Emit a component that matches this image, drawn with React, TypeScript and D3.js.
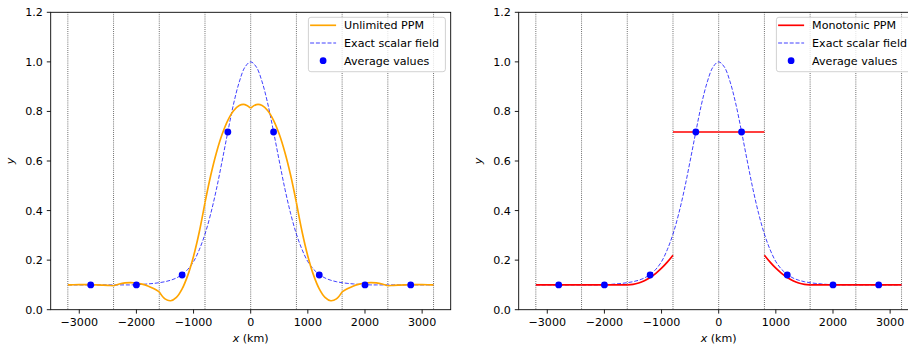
import React from "react";
import * as d3 from "d3";

// ---- data ----
const cellEdges = [-3200, -2400, -1600, -800, 0, 800, 1600, 2400, 3200];
const cellCenters = [-2800, -2000, -1200, -400, 400, 1200, 2000, 2800];
const averageValues = [0.1, 0.1, 0.14, 0.717, 0.717, 0.14, 0.1, 0.1];

// samples every 100 km from -3200 to 3200
const sampleX = d3.range(-3200, 3201, 100);

const exactValues = [
  0.1, 0.1, 0.1, 0.1, 0.1, 0.1, 0.1, 0.1, 0.1, 0.1, 0.1, 0.1,
  0.101, 0.102, 0.104, 0.106, 0.109, 0.113, 0.119, 0.128, 0.142, 0.163,
  0.194, 0.242, 0.305, 0.387, 0.486, 0.6, 0.718, 0.83, 0.919, 0.979,
  1.0,
  0.979, 0.919, 0.83, 0.718, 0.6, 0.486, 0.387, 0.305, 0.242, 0.194,
  0.163, 0.142, 0.128, 0.119, 0.113, 0.109, 0.106, 0.104, 0.102, 0.101,
  0.1, 0.1, 0.1, 0.1, 0.1, 0.1, 0.1, 0.1, 0.1, 0.1, 0.1, 0.1,
];

const unlimitedValues = [
  0.1, 0.1007, 0.101, 0.1011, 0.1008, 0.1003, 0.0994, 0.0982, 0.0967,
  0.1039, 0.1082, 0.1095, 0.1079, 0.1033, 0.0958, 0.0853, 0.0719,
  0.0435, 0.0361, 0.0496, 0.0841, 0.1395, 0.216, 0.3134, 0.4318,
  0.5415, 0.6335, 0.7077, 0.7643, 0.8031, 0.8242, 0.8275, 0.8132,
  0.8275, 0.8242, 0.8031, 0.7643, 0.7077, 0.6335, 0.5415, 0.4318,
  0.3134, 0.216, 0.1395, 0.0841, 0.0496, 0.0361, 0.0435, 0.0719,
  0.0853, 0.0958, 0.1033, 0.1079, 0.1095, 0.1082, 0.1039, 0.0967,
  0.0982, 0.0994, 0.1003, 0.1008, 0.1011, 0.101, 0.1007, 0.1,
];

// monotonic PPM, one list of 9 samples per cell
const monotonicCells = [
  [0.1, 0.1, 0.1, 0.1, 0.1, 0.1, 0.1, 0.1, 0.1],
  [0.1, 0.1, 0.1, 0.1, 0.1, 0.1, 0.1, 0.1, 0.1],
  [0.1, 0.1019, 0.1075, 0.1169, 0.13, 0.1469, 0.1675, 0.1919, 0.22],
  [0.717, 0.717, 0.717, 0.717, 0.717, 0.717, 0.717, 0.717, 0.717],
  [0.717, 0.717, 0.717, 0.717, 0.717, 0.717, 0.717, 0.717, 0.717],
  [0.22, 0.1919, 0.1675, 0.1469, 0.13, 0.1169, 0.1075, 0.1019, 0.1],
  [0.1, 0.1, 0.1, 0.1, 0.1, 0.1, 0.1, 0.1, 0.1],
  [0.1, 0.1, 0.1, 0.1, 0.1, 0.1, 0.1, 0.1, 0.1],
];

const xTicks = [-3000, -2000, -1000, 0, 1000, 2000, 3000];
const yTicks = [0, 0.2, 0.4, 0.6, 0.8, 1.0, 1.2];
const legendLabels = [
  ["Unlimited PPM", "Exact scalar field", "Average values"],
  ["Monotonic PPM", "Exact scalar field", "Average values"],
];

// ---- layout ----
const W = 908;
const H = 349;
const TOP = 12.3;
const BOTTOM = 309.7;
const PW = 400;
const FONT = "DejaVu Sans";
const FS = 11.1;
const TL = 3.9;

function Panel({ left, kind }: { left: number; kind: number }) {
  const x = d3.scaleLinear().domain([-3500, 3500]).range([left, left + PW]);
  const y = d3.scaleLinear().domain([0, 1.2]).range([BOTTOM, TOP]);
  const line = d3
    .line<[number, number]>()
    .x((d) => x(d[0]))
    .y((d) => y(d[1]))
    .curve(d3.curveCatmullRom);

  const exactPts: [number, number][] = sampleX.map((xv, i) => [xv, exactValues[i]]);
  const segs: [number, number][][] = [];
  for (let c = 0; c < cellCenters.length; c++) {
    const xs = sampleX.slice(c * 8, c * 8 + 9);
    const vals = kind === 0 ? unlimitedValues.slice(c * 8, c * 8 + 9) : monotonicCells[c];
    segs.push(xs.map((xv, i) => [xv, vals[i]] as [number, number]));
  }
  const ppmColor = kind === 0 ? "#ffa500" : "#ff0000";
  const right = left + PW;
  const lgW = 137;
  const lgX = right - 5.3 - lgW;
  const lgY = TOP + 5;
  const rows = [lgY + 8, lgY + 25.7, lgY + 43.4];
  const labels = legendLabels[kind];
  const cx = (left + right) / 2;

  return (
    <g>
      <defs>
        <clipPath id={`clip${kind}`}>
          <rect x={left} y={TOP} width={PW} height={BOTTOM - TOP} />
        </clipPath>
      </defs>
      <g clipPath={`url(#clip${kind})`}>
        {cellEdges.map((e) => (
          <line
            key={e}
            x1={x(e)}
            x2={x(e)}
            y1={TOP}
            y2={BOTTOM}
            stroke="#000"
            strokeWidth={0.7}
            strokeDasharray="0.8,1.3"
          />
        ))}
        <path
          d={line(exactPts) || ""}
          fill="none"
          stroke="#0000ff"
          strokeOpacity={0.75}
          strokeWidth={1}
          strokeDasharray="4,1.8"
        />
        {segs.map((s, i) => (
          <path key={i} d={line(s) || ""} fill="none" stroke={ppmColor} strokeWidth={1.67} />
        ))}
        {cellCenters.map((c, i) => (
          <circle key={c} cx={x(c)} cy={y(averageValues[i])} r={3.4} fill="#0000ff" />
        ))}
      </g>
      {/* spines */}
      <rect x={left} y={TOP} width={PW} height={BOTTOM - TOP} fill="none" stroke="#000" strokeWidth={0.89} />
      {/* x ticks */}
      {xTicks.map((t) => (
        <g key={t}>
          <line x1={x(t)} x2={x(t)} y1={BOTTOM} y2={BOTTOM + TL} stroke="#000" strokeWidth={0.89} />
          <text x={x(t)} y={325.7} fontSize={FS} fontFamily={FONT} textAnchor="middle" fill="#000">
            {t < 0 ? "\u2212" + Math.abs(t) : String(t)}
          </text>
        </g>
      ))}
      {yTicks.map((t) => (
        <g key={t}>
          <line x1={left - TL} x2={left} y1={y(t)} y2={y(t)} stroke="#000" strokeWidth={0.89} />
          <text x={left - 2 * TL} y={y(t) + 4} fontSize={FS} fontFamily={FONT} textAnchor="end" fill="#000">
            {t.toFixed(1)}
          </text>
        </g>
      ))}
      <text x={cx} y={341.5} fontSize={FS} fontFamily={FONT} textAnchor="middle" fill="#000">
        <tspan fontStyle="italic">x</tspan> (km)
      </text>
      <text
        transform={`translate(${left - 37},${(TOP + BOTTOM) / 2}) rotate(-90)`}
        fontSize={FS}
        fontFamily={FONT}
        fontStyle="italic"
        textAnchor="middle"
        fill="#000"
      >
        y
      </text>
      {/* legend */}
      <rect
        x={lgX}
        y={lgY}
        width={lgW}
        height={54.4}
        rx={2.5}
        fill="#fff"
        fillOpacity={0.8}
        stroke="#cccccc"
        strokeWidth={0.89}
      />
      <line x1={lgX + 1.7} x2={lgX + 27.7} y1={rows[0]} y2={rows[0]} stroke={ppmColor} strokeWidth={1.67} />
      <line
        x1={lgX + 1.7}
        x2={lgX + 27.7}
        y1={rows[1]}
        y2={rows[1]}
        stroke="#0000ff"
        strokeOpacity={0.75}
        strokeWidth={1}
        strokeDasharray="4,1.8"
      />
      <circle cx={lgX + 14.7} cy={rows[2]} r={3.4} fill="#0000ff" />
      {labels.map((l, i) => (
        <text key={l} x={lgX + 35.7} y={rows[i] + 4} fontSize={FS} fontFamily={FONT} fill="#000">
          {l}
        </text>
      ))}
    </g>
  );
}

export default function App() {
  return (
    <svg width={W} height={H} style={{ display: "block", position: "absolute", left: 0, top: 0 }}>
      <rect width={W} height={H} fill="#fff" />
      <Panel left={50.7} kind={0} />
      <Panel left={518.7} kind={1} />
    </svg>
  );
}
